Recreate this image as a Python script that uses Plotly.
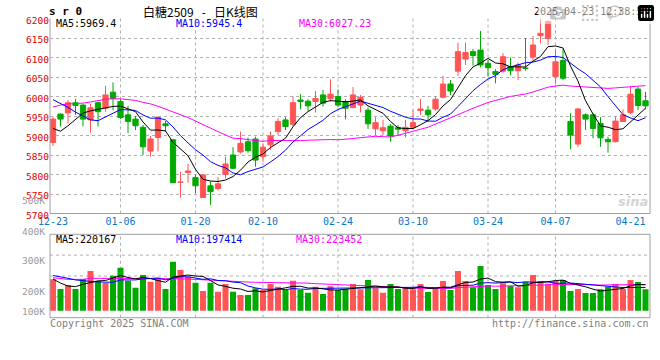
import numpy as np
import pandas as pd
import plotly.graph_objects as go

# ---------------- data ----------------
dates = (["12-23", "12-24", "12-25", "12-26", "12-27", "12-30", "12-31",
          "01-02", "01-03", "01-06", "01-07", "01-08", "01-09", "01-10",
          "01-13", "01-14", "01-15", "01-16", "01-17",
          "01-20", "01-21", "01-22", "01-23", "01-24", "01-27",
          "02-05", "02-06", "02-07",
          "02-10", "02-11", "02-12", "02-13", "02-14",
          "02-17", "02-18", "02-19", "02-20", "02-21",
          "02-24", "02-25", "02-26", "02-27", "02-28",
          "03-03", "03-04", "03-05", "03-06", "03-07",
          "03-10", "03-11", "03-12", "03-13", "03-14",
          "03-17", "03-18", "03-19", "03-20", "03-21",
          "03-24", "03-25", "03-26", "03-27", "03-28", "03-31",
          "04-01", "04-02", "04-03",
          "04-07", "04-08", "04-09", "04-10", "04-11",
          "04-14", "04-15", "04-16", "04-17", "04-18",
          "04-21", "04-22", "04-23"])

open_ = [5882, 5955, 5958, 5984, 5978, 5940, 5984, 5970, 6011, 5987,
         5953, 5942, 5921, 5860, 5895, 5930, 5889, 5780, 5805, 5792,
         5741, 5771, 5764, 5800, 5850, 5858, 5884, 5891, 5846, 5876,
         5910, 5940, 5929, 5991, 5988, 5987, 6004, 5994, 6000, 5987,
         5972, 5978, 5965, 5917, 5912, 5924, 5920, 5912, 5921, 5964,
         5965, 5968, 5998, 6032, 6065, 6096, 6115, 6119, 6085, 6064,
         6065, 6077, 6066, 6073, 6101, 6156, 6149, 6051, 6092, 5936,
         5878, 5953, 5953, 5931, 5890, 5884, 5936, 5959, 6019, 5989]
high = [5948, 5956, 5991, 5994, 5980, 5981, 5986, 6027, 6036, 5993,
        5976, 5950, 5927, 5899, 5948, 5937, 5890, 5807, 5827, 5799,
        5800, 5782, 5793, 5846, 5870, 5910, 5895, 5897, 5880, 5910,
        5944, 5947, 6000, 6006, 5993, 6014, 6017, 6044, 6018, 5993,
        6024, 6004, 5972, 5947, 5940, 5929, 5927, 5940, 5965, 5994,
        5976, 6000, 6053, 6042, 6138, 6138, 6122, 6168, 6094, 6070,
        6111, 6100, 6087, 6150, 6155, 6200, 6196, 6121, 6121, 5957,
        5970, 5957, 5957, 5947, 5897, 5948, 5967, 6025, 6025, 6012]
low = [5873, 5923, 5931, 5953, 5923, 5907, 5923, 5961, 5965, 5942,
       5906, 5914, 5850, 5846, 5859, 5910, 5779, 5741, 5779, 5752,
       5740, 5722, 5759, 5790, 5814, 5854, 5856, 5820, 5833, 5863,
       5901, 5914, 5924, 5967, 5963, 5959, 5974, 5987, 5972, 5941,
       5970, 5959, 5917, 5901, 5901, 5884, 5899, 5895, 5916, 5953,
       5936, 5964, 5995, 6004, 6053, 6081, 6079, 6075, 6051, 6034,
       6061, 6055, 6042, 6066, 6092, 6136, 6132, 6032, 6042, 5865,
       5871, 5914, 5893, 5871, 5856, 5882, 5935, 5955, 5965, 5967]
close = [5942, 5942, 5984, 5977, 5942, 5971, 5961, 6004, 5995, 5946,
         5936, 5925, 5871, 5891, 5947, 5925, 5779, 5781, 5809, 5771,
         5799, 5756, 5776, 5827, 5816, 5880, 5861, 5837, 5870, 5899,
         5936, 5923, 5984, 5987, 5976, 5995, 5983, 6006, 5978, 5970,
         6004, 5998, 5930, 5933, 5920, 5899, 5916, 5921, 5933, 5968,
         5953, 5993, 6032, 6014, 6115, 6113, 6105, 6081, 6074, 6057,
         6102, 6066, 6081, 6072, 6132, 6162, 6192, 6089, 6047, 5901,
         5968, 5942, 5918, 5894, 5884, 5937, 5953, 6006, 5977, 5976]
volume = [267500, 184900, 219000, 185000, 270000, 338000, 256000, 239000, 298000, 366000,
          256000, 196000, 304000, 247000, 281000, 185000, 417000, 347000, 290000, 239000,
          168000, 239000, 162000, 227000, 162000, 134000, 134000, 191000, 176000, 227000,
          204000, 176000, 256000, 176000, 153000, 204000, 142000, 208000, 176000, 185000,
          227000, 182000, 262000, 191000, 153000, 227000, 185000, 199000, 182000, 227000,
          159000, 185000, 253000, 176000, 338000, 253000, 199000, 381000, 219000, 185000,
          233000, 210000, 199000, 245000, 304000, 253000, 230000, 253000, 262000, 168000,
          185000, 151000, 151000, 182000, 204000, 227000, 185000, 262000, 245000, 182000]

# moving-average values before a full window exists
ma5_head = [5918, 5911, 5925, 5940]
ma10_head = [5992, 5983, 5972, 5960, 5950, 5940, 5938, 5948, 5958]
ma30_head = [5973, 5978, 5981, 5982, 5983, 5986, 5990, 5993, 5994, 5994,
             5992, 5990, 5985, 5981, 5975, 5968, 5961, 5954, 5946, 5937,
             5929, 5919, 5910, 5901, 5893, 5892, 5889, 5887, 5885]
vma5_head = [270000, 235000, 210000, 205000]
vma10_head = [300000, 285000, 276000, 262000, 253000, 250000, 245000, 242000, 242000]
vma30_head = [281000, 272000, 267000, 267000, 267000, 276000, 276000, 277000, 278000, 278000,
              278000, 278000, 278000, 278000, 276000, 274000, 273000, 272000, 270000, 266000,
              262000, 258000, 255000, 252000, 249000, 246000, 244000, 242000, 241000]

tick_dates = ["12-23", "01-06", "01-20", "02-10", "02-24", "03-10", "03-24", "04-07", "04-21"]
price_ticks = [5700, 5750, 5800, 5850, 5900, 5950, 6000, 6050, 6100, 6150, 6200]
vol_labels = ["500K", "400K", "300K", "200K", "100K"]

NB = "\u00a0"
title_text = "白糖2509" + NB * 3 + "-" + NB * 3 + "日K线图"
symbol_text = "s r 0"
time_text = "2025-04-23 12:38:55"
ma_price_labels = ["MA5:5969.4", "MA10:5945.4", "MA30:6027.23"]
ma_vol_labels = ["MA5:220167", "MA10:197414", "MA30:223452"]

# ---------------- helpers ----------------
W, H = 660, 360
def fx(x):
    return x / W
def fy(y):
    return 1 - y / H

RED = "#ff5555"
GREEN = "#00aa00"
MONO = "DejaVu Sans Mono"
GRID = "#b0b0b0"
BORDER = "#a0a0a0"

def moving(arr, n, head):
    r = pd.Series(arr, dtype=float).rolling(n).mean().to_numpy()
    r[:n - 1] = head
    return r

idx = np.arange(len(dates))
o = np.array(open_, float); c = np.array(close, float)
h = np.array(high, float); l = np.array(low, float)
up = c >= o
colors = [RED if u else GREEN for u in up]

ma5 = moving(close, 5, ma5_head)
ma10 = moving(close, 10, ma10_head)
ma30 = moving(close, 30, ma30_head)
vma5 = moving(volume, 5, vma5_head)
vma10 = moving(volume, 10, vma10_head)
vma30 = moving(volume, 30, vma30_head)

fig = go.Figure()

# wicks
for flag, col in ((True, RED), (False, GREEN)):
    xs, ys = [], []
    for i in idx[up == flag]:
        xs += [i, i, None]
        ys += [l[i], h[i], None]
    fig.add_trace(go.Scatter(x=xs, y=ys, mode="lines", line=dict(color=col, width=1),
                             xaxis="x", yaxis="y", hoverinfo="skip", showlegend=False))
# bodies
fig.add_trace(go.Bar(x=idx, base=np.minimum(o, c), y=np.abs(c - o), width=0.7,
                     marker=dict(color=colors, line=dict(color=colors, width=1)),
                     xaxis="x", yaxis="y", showlegend=False, hoverinfo="skip"))
# MA lines
for arr, col in ((ma30, "#ff00ff"), (ma10, "#0000ff"), (ma5, "#000000")):
    fig.add_trace(go.Scatter(x=idx, y=arr, mode="lines", line=dict(color=col, width=1),
                             xaxis="x", yaxis="y", showlegend=False, hoverinfo="skip"))
# volume
fig.add_trace(go.Bar(x=idx, y=volume, width=0.8, marker=dict(color=colors, line=dict(width=0)),
                     xaxis="x2", yaxis="y2", showlegend=False, hoverinfo="skip"))
for arr, col in ((vma30, "#ff00ff"), (vma10, "#0000ff"), (vma5, "#000000")):
    fig.add_trace(go.Scatter(x=idx, y=arr, mode="lines", line=dict(color=col, width=1),
                             xaxis="x2", yaxis="y2", showlegend=False, hoverinfo="skip"))

tick_idx = [dates.index(d) for d in tick_dates]

# panel geometry (pixels)
L, R = 50, 650
MT, MB = 18.5, 213.5
VT, VB = 234.3, 317.7
VBASE = 310.7
VSCALE = 8520  # volume units per pixel
vrange = [(VBASE - VB) * VSCALE, (VBASE - VT) * VSCALE]

fig.update_layout(
    width=W, height=H, margin=dict(l=0, r=0, t=0, b=0),
    paper_bgcolor="white", plot_bgcolor="white", barmode="overlay",
    showlegend=False,
    xaxis=dict(domain=[fx(L), fx(R)], range=[-0.4, 79.6], anchor="y",
               tickvals=tick_idx, ticktext=tick_dates, showgrid=False, zeroline=False,
               ticks="", tickfont=dict(family=MONO, size=10, color="#0a78c8"),
               automargin=False, fixedrange=True),
    yaxis=dict(domain=[fy(MB), fy(MT)], range=[5700, 6200], anchor="x",
               tickvals=price_ticks, showgrid=True, gridcolor=GRID, griddash="dot",
               gridwidth=1, zeroline=False, ticks="", ticklabelshift=2,
               tickfont=dict(family=MONO, size=9.5, color="#e00000"),
               automargin=False, fixedrange=True),
    xaxis2=dict(domain=[fx(L), fx(R)], range=[-0.4, 79.6], anchor="y2",
                showticklabels=False, showgrid=False, zeroline=False, ticks="",
                automargin=False, fixedrange=True),
    yaxis2=dict(domain=[fy(VB), fy(VT)], range=vrange, anchor="x2",
                showticklabels=False, showgrid=False, zeroline=False, ticks="",
                automargin=False, fixedrange=True),
)

shapes = []
# vertical grid lines
for t in tick_idx[1:-1]:
    for xr, yr in (("x", "y domain"), ("x2", "y2 domain")):
        shapes.append(dict(type="line", xref=xr, yref=yr, x0=t, x1=t, y0=0, y1=1,
                           line=dict(color=GRID, width=1, dash="dot"), layer="below"))
# volume horizontal grid lines
for f in (0.25, 0.5, 0.75):
    shapes.append(dict(type="line", xref="x2 domain", yref="y2 domain", x0=0, x1=1, y0=f, y1=f,
                       line=dict(color=GRID, width=1, dash="dot"), layer="below"))
# borders
for (x0, y0, x1, y1) in ((L, MT, L, MB), (R, MT, R, MB), (L, MB, R, MB)):
    shapes.append(dict(type="line", xref="paper", yref="paper", x0=fx(x0), x1=fx(x1),
                       y0=fy(y0), y1=fy(y1), line=dict(color=BORDER, width=1)))
shapes.append(dict(type="rect", xref="paper", yref="paper", x0=fx(L), x1=fx(R),
                   y0=fy(VB), y1=fy(VT), line=dict(color=BORDER, width=1)))
fig.update_layout(shapes=shapes)

ann = []
def add(text, x, y, color, size=10, xanchor="left", family=MONO, weight="normal", style="normal"):
    ann.append(dict(text=text, x=fx(x), y=fy(y), xref="paper", yref="paper",
                    xanchor=xanchor, yanchor="middle", showarrow=False, borderpad=0,
                    font=dict(family=family, size=size, color=color, weight=weight, style=style)))

add(symbol_text, 48, 12, "#000000", size=11, weight="bold")
add(title_text, 200, 12, "#000000", size=12, xanchor="center", family="Noto Sans CJK SC")
add(time_text, 649, 12, "#000000", xanchor="right")
for txt, x, col in zip(ma_price_labels, (55, 175, 298), ("#000000", "#0000ff", "#ff00ff")):
    add(txt, x, 24, col)
for txt, x, col in zip(ma_vol_labels, (55, 175, 295), ("#000000", "#0000ff", "#ff00ff")):
    add(txt, x, 239, col)
for txt, y in zip(vol_labels, (200, 231, 260, 291, 311)):
    add(txt, 46, y, "#999999", size=9.5, xanchor="right")
add("Copyright 2025 SINA.COM", 49, 323, "#808080")
add("http://finance.sina.com.cn", 650, 323, "#808080", xanchor="right")
add("sina", 649, 201, "#d4d4d4", size=13, xanchor="right", family="DejaVu Sans",
    weight="bold", style="italic")
fig.update_layout(annotations=ann)

fig.write_html("out.html",
               post_script="document.body.style.margin='0';document.body.style.padding='0';")
